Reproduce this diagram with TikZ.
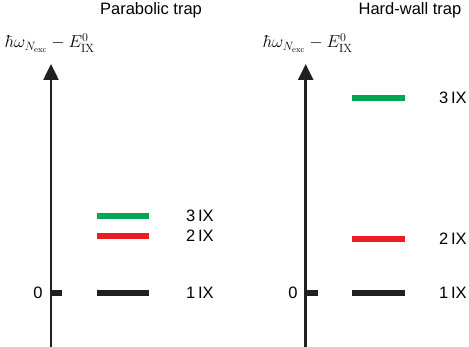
\documentclass[tikz,border=0pt]{standalone}
\usepackage{fontspec}
\newfontfamily\labfont{Liberation Sans}
\usetikzlibrary{arrows.meta}
\definecolor{lvgreen}{RGB}{0,166,81}
\definecolor{lvred}{RGB}{237,28,36}
\definecolor{lvblack}{RGB}{35,31,32}
\begin{document}
\begin{tikzpicture}[x=1pt,y=-1pt,
  axis/.style={line width=2.5pt,color=lvblack,-{Triangle[length=16pt,width=15pt]}},
  tick/.style={line width=6pt,color=lvblack},
  level/.style={line width=6pt},
  lab/.style={font=\labfont\fontsize{16.5}{19}\selectfont,inner sep=0pt},
  title/.style={font=\labfont\fontsize{16.5}{19}\selectfont,inner sep=0pt},
  mlab/.style={font=\fontsize{17}{20}\selectfont,inner sep=0pt}]
\useasboundingbox (0,0) rectangle (469,347);
% left panel
\node[title] (t1) at (151,10) {Parabolic trap};
\node[mlab] (m1) at (50,43) {$\hbar\omega_{N_{\mathrm{exc}}}-E^{0}_{\mathrm{IX}}$};
\coordinate (a1b) at (51,347);
\coordinate (a1t) at (51,64);
\draw[axis] (a1b) -- (a1t);
\coordinate (k1a) at (50,292.7);
\coordinate (k1b) at (62,292.7);
\draw[tick] (k1a) -- (k1b);
\node[lab] (z1) at (38,292.7) {0};
\coordinate (g1a) at (97,216.3); \coordinate (g1b) at (149,216.3);
\coordinate (r1a) at (97,235.7); \coordinate (r1b) at (149,235.7);
\coordinate (b1a) at (97,292.7); \coordinate (b1b) at (149,292.7);
\draw[level,lvgreen] (g1a) -- (g1b);
\draw[level,lvred] (r1a) -- (r1b);
\draw[level,lvblack] (b1a) -- (b1b);
\node[lab] (l13) at (200,216.3) {3\,IX};
\node[lab] (l12) at (200,235.7) {2\,IX};
\node[lab] (l11) at (200,292.7) {1\,IX};
% right panel
\node[title] (t2) at (410,10) {Hard-wall trap};
\node[mlab] (m2) at (308,43) {$\hbar\omega_{N_{\mathrm{exc}}}-E^{0}_{\mathrm{IX}}$};
\coordinate (a2b) at (305.7,347);
\coordinate (a2t) at (305.7,64);
\draw[axis] (a2b) -- (a2t);
\coordinate (k2a) at (304.7,292.7);
\coordinate (k2b) at (318,292.7);
\draw[tick] (k2a) -- (k2b);
\node[lab] (z2) at (293,292.7) {0};
\coordinate (g2a) at (352,98.3); \coordinate (g2b) at (405,98.3);
\coordinate (r2a) at (352,239); \coordinate (r2b) at (405,239);
\coordinate (b2a) at (352,292.7); \coordinate (b2b) at (405,292.7);
\draw[level,lvgreen] (g2a) -- (g2b);
\draw[level,lvred] (r2a) -- (r2b);
\draw[level,lvblack] (b2a) -- (b2b);
\node[lab] (l23) at (453,98.3) {3\,IX};
\node[lab] (l22) at (453,239) {2\,IX};
\node[lab] (l21) at (453,292.7) {1\,IX};
\end{tikzpicture}
\end{document}
